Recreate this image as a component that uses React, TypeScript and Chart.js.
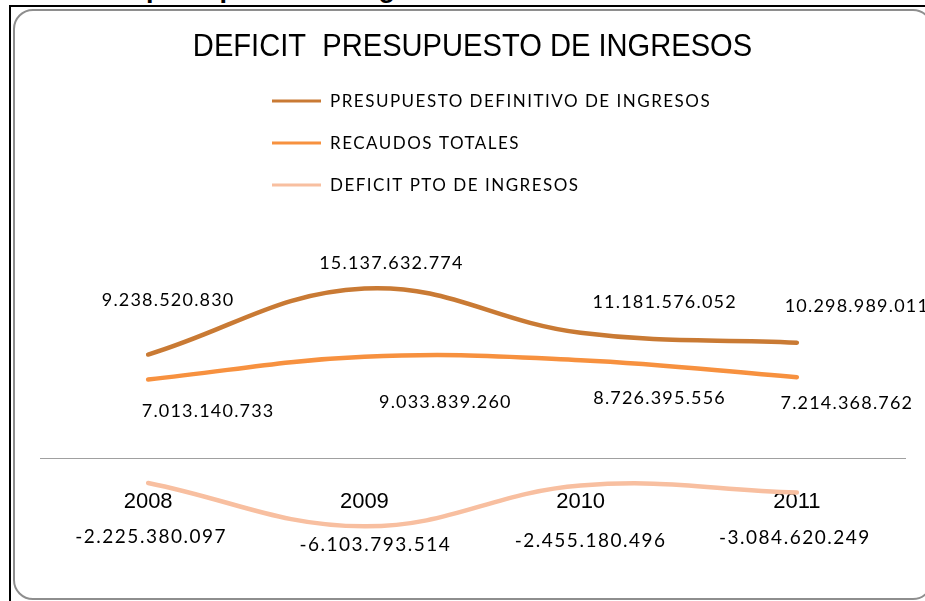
import React, { useEffect, useRef } from "react";
import { Chart, registerables } from "chart.js";

Chart.register(...registerables);

// ---- data ----
const categories = ["2008", "2009", "2010", "2011"];
const presupuesto = [9238520830, 15137632774, 11181576052, 10298989011];
const recaudos = [7013140733, 9033839260, 8726395556, 7214368762];
const deficit = [-2225380097, -6103793514, -2455180496, -3084620249];
const seriesNames = [
  "PRESUPUESTO DEFINITIVO DE INGRESOS",
  "RECAUDOS TOTALES",
  "DEFICIT PTO DE INGRESOS",
];
const titleText = "DEFICIT  PRESUPUESTO DE INGRESOS";
const headingText = "Deficit presupuesto de ingresos";

// ---- styles ----
const colors = ["#C97A34", "#F7913F", "#F8BFA0"];

const hasFont = (name: string) => {
  try {
    const c = document.createElement("canvas").getContext("2d") as any;
    const probe = "2008 DEFICIT wmi";
    c.font = "40px monospace";
    const a = c.measureText(probe).width;
    c.font = `40px '${name}', monospace`;
    return Math.abs(c.measureText(probe).width - a) > 0.5;
  } catch (e) {
    return false;
  }
};

const fmt = (v: number) => {
  const s = Math.abs(Math.round(v))
    .toString()
    .replace(/\B(?=(\d{3})+(?!\d))/g, ".");
  return (v < 0 ? "-" : "") + s;
};

const valueLabels = {
  id: "valueLabels",
  afterDatasetsDraw(chart: any, _args: any, opts: any) {
    const ctx = chart.ctx;
    chart.data.datasets.forEach((ds: any, i: number) => {
      const meta = chart.getDatasetMeta(i);
      const st = opts.styles[i];
      ctx.save();
      ctx.font = st.font;
      ctx.fillStyle = st.color;
      try { ctx.letterSpacing = st.spacing; } catch (e) {}
      ctx.textAlign = "center";
      ctx.textBaseline = "middle";
      meta.data.forEach((pt: any, j: number) => {
        const off = opts.offsets[i][j];
        ctx.fillText(fmt(ds.data[j]), pt.x + off[0], pt.y + off[1]);
      });
      ctx.restore();
    });
  },
};

const narrowTitle = {
  id: "narrowTitle",
  afterDraw(chart: any, _args: any, opts: any) {
    const ctx = chart.ctx;
    const cx = (chart.chartArea.left + chart.chartArea.right) / 2;
    ctx.save();
    ctx.translate(cx, opts.y);
    ctx.scale(opts.scaleX, 1);
    ctx.font = opts.font;
    ctx.fillStyle = opts.color;
    ctx.textAlign = "center";
    ctx.textBaseline = "middle";
    ctx.fillText(opts.text, 0, 0);
    ctx.restore();
  },
};

const sideLegend = {
  id: "sideLegend",
  afterDraw(chart: any, _args: any, opts: any) {
    const ctx = chart.ctx;
    ctx.save();
    chart.data.datasets.forEach((ds: any, i: number) => {
      const y = opts.top + i * opts.gap;
      ctx.strokeStyle = ds.borderColor;
      ctx.lineWidth = opts.lineWidth;
      ctx.beginPath();
      ctx.moveTo(opts.lineX0, y);
      ctx.lineTo(opts.lineX1, y);
      ctx.stroke();
      ctx.font = opts.font;
      ctx.fillStyle = opts.color;
      try { ctx.letterSpacing = opts.spacing; } catch (e) {}
      ctx.textAlign = "left";
      ctx.textBaseline = "middle";
      ctx.fillText(ds.label, opts.textX, y + 1);
    });
    ctx.restore();
  },
};

function ChartCanvas() {
  const ref = useRef<HTMLCanvasElement | null>(null);
  useEffect(() => {
    if (!ref.current) return;
    const narrow = hasFont("Liberation Sans Narrow");
    const tickFont = narrow
      ? { family: "'Liberation Sans Narrow', sans-serif", size: 24 }
      : { family: "'Liberation Sans', Arial, sans-serif", size: 22 };
    const mk = (i: number, data: number[]) => ({
      label: seriesNames[i],
      data,
      borderColor: colors[i],
      backgroundColor: colors[i],
      borderWidth: 4.5,
      borderCapStyle: "round",
      pointRadius: 0,
      pointHoverRadius: 0,
      tension: 0.4,
      fill: false,
    });
    const chart = new Chart(ref.current, {
      type: "line",
      data: {
        labels: categories,
        datasets: [mk(0, presupuesto), mk(1, recaudos), mk(2, deficit)],
      },
      options: {
        animation: false,
        responsive: false,
        devicePixelRatio: 1,
        layout: { padding: { left: 40, right: 20, top: 234, bottom: 31 } },
        scales: {
          x: {
            type: "category",
            offset: true,
            position: { y: 0 },
            grid: { display: false, drawTicks: false },
            border: { display: true, color: "#A0A0A0", width: 1 },
            ticks: {
              color: "#000",
              padding: narrow ? 29.5 : 30.5,
              font: tickFont,
            },
          },
          y: {
            display: false,
            min: -10000000000,
            max: 20000000000,
          },
        },
        plugins: {
          legend: { display: false },
          tooltip: { enabled: false },
          title: { display: false },
          narrowTitle: {
            text: titleText,
            y: 47,
            scaleX: 0.91,
            font: "32px 'Liberation Sans', Arial, sans-serif",
            color: "#000",
          },
          valueLabels: {
            styles: [
              { font: "18px Lato, sans-serif", color: "#000", spacing: "1.2px" },
              { font: "18px Lato, sans-serif", color: "#000", spacing: "1.2px" },
              { font: "19px Lato, sans-serif", color: "#000", spacing: "1.5px" },
            ],
            offsets: [
              [[20, -54], [27, -25], [84, -31], [60, -36]],
              [[60, 32], [81, 45], [79, 38], [50, 26]],
              [[3, 54], [11, 19], [10, 55], [-2, 45]],
            ],
          },
          sideLegend: {
            top: 101,
            gap: 42,
            lineX0: 272,
            lineX1: 321,
            lineWidth: 3,
            textX: 330,
            font: "17px Lato, sans-serif",
            color: "#000",
            spacing: "1.5px",
          },
        } as any,
      },
      plugins: [valueLabels, narrowTitle, sideLegend],
    } as any);
    return () => chart.destroy();
  }, []);
  return (
    <canvas
      ref={ref}
      width={925}
      height={601}
      style={{ position: "absolute", left: 0, top: 0, width: 925, height: 601 }}
    />
  );
}

export default function App() {
  return (
    <div
      style={{
        position: "absolute",
        left: 0,
        top: 0,
        width: 925,
        height: 601,
        overflow: "hidden",
        background: "#fff",
      }}
    >
      <div
        style={{
          position: "absolute",
          left: 56,
          top: -25,
          fontFamily: "'Liberation Sans', Arial, sans-serif",
          fontWeight: "bold",
          fontSize: 27,
          lineHeight: "27px",
          whiteSpace: "nowrap",
          color: "#000",
        }}
      >
        {headingText}
      </div>
      <div style={{ position: "absolute", left: 9, top: 5, width: 916, height: 2, background: "#000" }} />
      <div style={{ position: "absolute", left: 9, top: 5, width: 2, height: 596, background: "#000" }} />
      <div
        style={{
          position: "absolute",
          left: 13,
          top: 9,
          width: 916,
          height: 587,
          border: "2px solid #8E8E8E",
          borderRadius: 20,
          background: "#fff",
        }}
      />
      <ChartCanvas />
    </div>
  );
}
